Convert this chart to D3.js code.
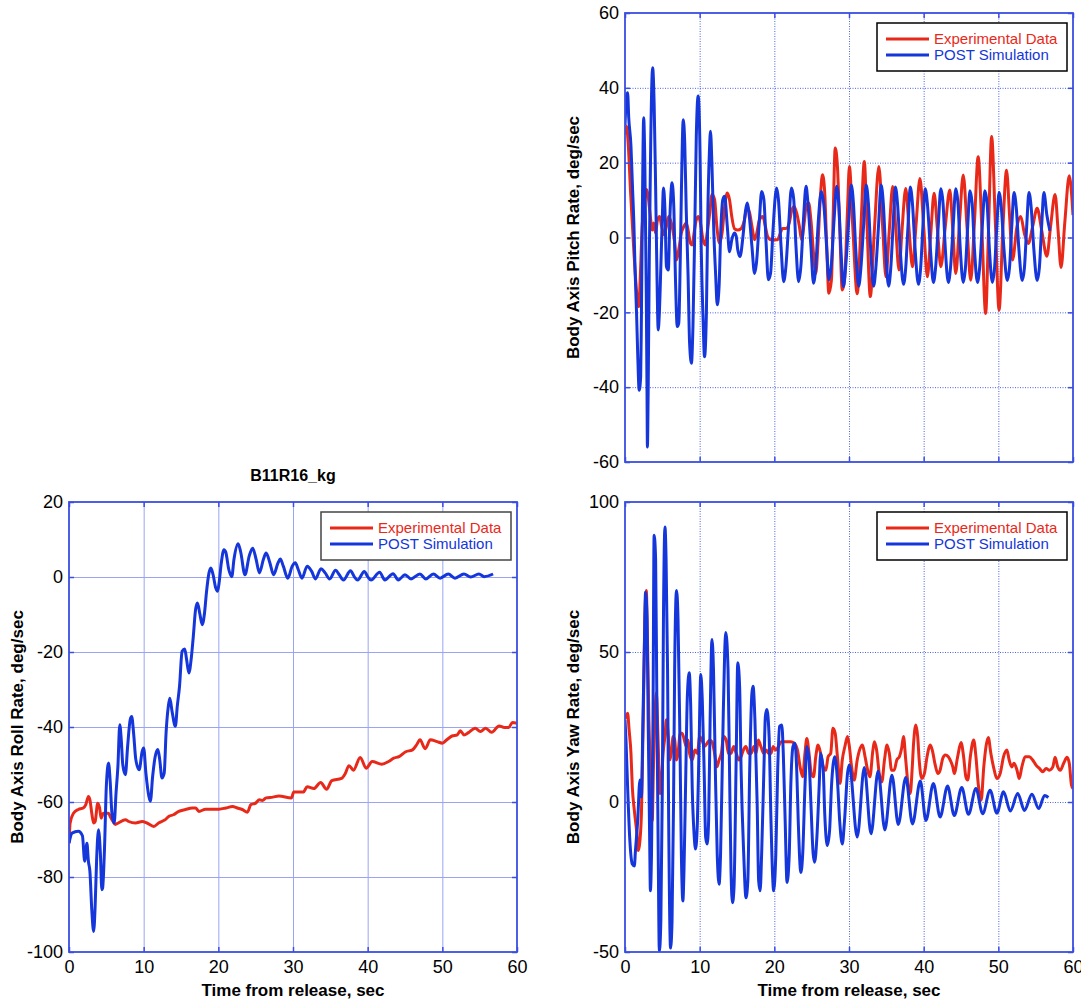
<!DOCTYPE html>
<html>
<head>
<meta charset="utf-8">
<script src="https://cdn.jsdelivr.net/npm/d3@7"></script>
<style>
  body { margin: 0; background: #fff; }
  svg { display: block; font-family: "Liberation Sans", Arial, sans-serif; }
</style>
</head>
<body>
<svg id="chart" width="1081" height="1000"></svg>
<script>
// tick values
const xTicks = [0, 10, 20, 30, 40, 50, 60];
const pitchTicks = [-60, -40, -20, 0, 20, 40, 60];
const rollTicks = [-100, -80, -60, -40, -20, 0, 20];
const yawTicks = [-50, 0, 50, 100];
const legendLabels = ['Experimental Data', 'POST Simulation'];

// [time, rate]
const pitchExp = [[0,27.5],[0.2,29.7],[0.45,24.4],[0.75,11.9],[1.0,3],[1.2,-4.2],[1.4,-10.4],[1.7,-17.6],[1.85,-18.5],[2.05,-10.4],[2.3,3],[2.55,8.3],[2.9,12.8],[3.1,11],[3.35,6.5],[3.65,2],[3.85,3.9],[4.1,1.2],[4.35,4.7],[4.65,5.6],[4.9,3],[5.25,0.7],[5.55,3],[5.85,5.6],[6.2,3.9],[6.6,-0.6],[6.9,-6],[7.2,-3.3],[7.55,1.2],[7.9,3],[8.2,3.9],[8.45,2],[8.75,-1.5],[9.0,-2],[9.25,1.2],[9.55,4.7],[9.85,5.6],[10.1,3.9],[10.45,-0.6],[10.75,-2],[11.0,1.2],[11.35,6.5],[11.65,11.5],[12.0,10.1],[12.3,3],[12.65,-1.5],[13.0,1.2],[13.35,8.3],[13.7,11.9],[14.0,10.1],[14.3,5.6],[14.65,2.4],[15.1,2],[15.55,2.4],[16.0,4.7],[16.35,8.3],[16.7,6.5],[17.0,3],[17.35,-0.6],[17.65,1.2],[18.0,4.7],[18.45,5.6],[18.8,3],[19.1,0.3],[19.55,-0.6],[20.0,-0.6],[20.45,-0.6],[20.8,1.2],[21.1,2.4],[21.55,2.4],[22.0,3.9],[22.3,7],[22.65,8.3],[23.0,6.5],[23.35,3],[23.65,-0.6],[24.0,3.9],[24.3,8.8],[24.6,9.2],[24.9,4.7],[25.25,-4.2],[25.55,-9.6],[25.85,-1.5],[26.2,11.9],[26.45,16.8],[26.75,11.9],[27.0,-1.5],[27.3,-14.9],[27.65,-11.3],[27.9,7.4],[28.15,23.9],[28.45,19],[28.75,3],[29.1,-14],[29.4,-11.3],[29.8,7.4],[30.05,19],[30.5,3],[31.1,-15],[31.6,3],[32.05,20.3],[32.4,4],[32.85,-15.8],[33.4,2],[34.0,19],[34.5,3],[34.95,-10.5],[35.4,2],[35.85,13.6],[36.25,3],[36.7,-8.7],[37.1,2],[37.6,13.1],[38.05,2],[38.5,-7.8],[39.0,4],[39.5,15.8],[40.0,3],[40.5,-10.5],[40.95,1],[41.4,11.8],[41.85,2],[42.3,-7.8],[42.9,3],[43.5,12.7],[43.9,2],[44.3,-9.6],[44.8,4],[45.3,16.7],[45.8,3],[46.3,-11.4],[46.8,4],[47.3,21.6],[47.8,2],[48.3,-20.3],[48.7,3],[49.1,27],[49.6,4],[50.1,-19.4],[50.6,2],[51.1,18],[51.5,6],[51.9,-6],[52.5,3],[53.0,5.6],[53.5,1],[54.0,-1.6],[54.6,3],[55.2,7.8],[55.8,2],[56.5,-5],[57.0,3],[57.6,11.5],[58.0,2],[58.4,-8],[58.9,4],[59.5,16.5],[60,6]];

const pitchSim = [[0,30],[0.2,37.8],[0.35,38.7],[0.5,32],[0.8,24.4],[1.0,13.7],[1.2,3],[1.35,-8.7],[1.55,-20.3],[1.7,-31],[1.9,-40.8],[2.1,-37.2],[2.2,-20.3],[2.35,11.9],[2.5,32],[2.65,20.8],[2.85,-14.9],[2.95,-41.7],[3.0,-56],[3.1,-41.7],[3.25,-6],[3.45,26.2],[3.7,45.4],[3.9,36],[4.1,13.7],[4.25,-6],[4.45,-24.7],[4.6,-20.3],[4.8,-7.8],[5.0,5.6],[5.15,13.2],[5.35,7.4],[5.55,-7.8],[5.8,-8.7],[6.0,4.7],[6.3,14.6],[6.55,7.4],[6.75,-10.4],[7.0,-23.8],[7.2,-22.9],[7.4,-6],[7.55,11.9],[7.8,31.5],[8.0,25.3],[8.2,7.4],[8.45,-10.4],[8.65,-28.2],[8.9,-33.6],[9.1,-23.8],[9.35,3],[9.55,27.1],[9.8,37.8],[10.05,22.6],[10.2,-1.5],[10.45,-21.2],[10.65,-31.9],[10.9,-20.3],[11.1,7.4],[11.3,22.6],[11.45,28.4],[11.65,19],[11.9,1.2],[12.15,-10.4],[12.35,-18],[12.6,-13.1],[12.8,0.3],[13.1,10.1],[13.35,11],[13.7,3],[14.0,-3.8],[14.3,-0.6],[14.65,1.2],[14.9,0.3],[15.1,-3.3],[15.4,-5.1],[15.8,0.3],[16.1,6.5],[16.35,9.2],[16.65,5.6],[17.0,-2.4],[17.35,-9.6],[17.6,-6.9],[18.0,4.7],[18.3,12.3],[18.6,10.1],[18.9,-1.5],[19.2,-11.3],[19.5,-9.5],[19.8,1.2],[20.3,13.2],[20.55,10.1],[20.9,-2.4],[21.25,-11.8],[21.55,-7.8],[21.9,2.9],[22.3,13.2],[22.6,10.1],[22.9,-2.4],[23.25,-11.8],[23.55,-7.8],[23.9,4.7],[24.25,13.7],[24.5,9.2],[24.9,-2.4],[25.25,-12.2],[25.55,-7.8],[25.9,4.7],[26.3,12.3],[26.65,8.3],[27.0,-2.4],[27.3,-11.3],[27.65,-6.9],[28.0,4.7],[28.35,13.7],[28.65,8.3],[28.9,-2.4],[29.25,-13.1],[29.55,-7.8],[29.95,4],
  [30.3,14],[30.6,9],[30.9,-3],[31.3,-13],[31.6,-8],[31.95,3],
  [32.3,14],[32.6,9],[32.9,-3],[33.3,-13],[33.6,-8],[33.95,3],
  [34.3,14],[34.6,9],[34.9,-3],[35.3,-13],[35.6,-8],[35.9,3],
  [36.2,13.5],[36.5,9],[36.85,-3],[37.3,-12.5],[37.6,-8],[37.9,3],
  [38.2,13.5],[38.5,9],[38.85,-3],[39.3,-12.5],[39.6,-8],[39.9,3],
  [40.2,13],[40.5,9],[40.9,-3],[41.3,-12],[41.6,-8],[41.95,3],
  [42.3,13],[42.6,9],[42.9,-3],[43.3,-12],[43.6,-8],[43.95,3],
  [44.3,13],[44.6,9],[44.9,-3],[45.3,-12],[45.6,-8],[45.9,3],
  [46.2,12.5],[46.5,9],[46.8,-3],[47.2,-12],[47.5,-8],[47.85,3],
  [48.2,12.5],[48.5,9],[48.8,-3],[49.2,-12],[49.5,-8],[49.8,3],
  [50.1,12],[50.4,8],[50.75,-3],[51.2,-11.5],[51.5,-8],[51.8,3],
  [52.1,12],[52.4,8],[52.75,-3],[53.2,-11.5],[53.5,-8],[53.8,3],
  [54.1,12],[54.4,8],[54.75,-3],[55.2,-11.5],[55.5,-8],[55.8,3],
  [56.1,12],[56.5,6],[56.9,1.8]];

const rollExp = [[0,-71],[0.15,-65.6],[0.6,-63],[1.25,-62],[1.9,-61.6],[2.25,-60.7],[2.6,-58.5],[2.8,-59.4],[3.05,-63],[3.3,-65.6],[3.5,-65.2],[3.85,-60.3],[4.1,-61.6],[4.3,-64.3],[4.6,-63],[5.0,-63],[5.3,-63],[5.5,-63.8],[5.9,-65.2],[6.2,-66],[6.6,-65.6],[7.55,-64.7],[8.0,-65.2],[8.9,-65.6],[9.8,-65.2],[10.45,-65.6],[11.35,-66.5],[12.0,-65.6],[12.9,-64.7],[13.4,-63.8],[14.0,-63.4],[14.7,-62.5],[15.6,-62],[16.5,-61.6],[16.95,-61.6],[17.4,-62.5],[18.3,-61.9],[19.2,-61.9],[20.1,-61.9],[21.0,-61.6],[21.9,-61.2],[22.55,-61.6],[23.2,-62],[23.9,-62.7],[24.35,-60.7],[25.0,-60.3],[25.5,-59.4],[25.9,-59.6],[26.4,-58.9],[27.3,-58.7],[28.1,-58.4],[29.8,-58.9],[30.1,-57.3],[31.4,-57.3],[31.9,-55.9],[32.8,-56.4],[33.7,-54.8],[34.5,-56.6],[35.2,-54.3],[36.5,-53.7],[37.0,-52.4],[37.5,-50.3],[38.1,-51.5],[39.0,-48.1],[39.8,-51],[40.6,-49.2],[41.9,-49.9],[42.8,-49.2],[43.5,-48.3],[44.2,-47.9],[45.1,-46.6],[46.0,-46.1],[46.6,-44.6],[47.0,-43.4],[47.7,-45.8],[48.4,-43.4],[49.3,-43.9],[50.0,-44.3],[50.6,-43.4],[51.3,-42.4],[52.0,-42.1],[52.4,-41],[52.9,-42.1],[53.5,-41.5],[54.4,-40.3],[55.1,-41.2],[55.8,-40.3],[56.6,-41.4],[57.6,-39.7],[58.3,-40.1],[58.9,-40.1],[59.4,-38.8],[60,-39]];

const rollSim = [[0,-71],[0.4,-68.3],[1.25,-67.8],[1.8,-69],[2.1,-75.8],[2.4,-71],[2.6,-75.8],[2.8,-78.5],[3.05,-88.7],[3.3,-94.5],[3.5,-87.8],[3.7,-75.4],[3.95,-67.4],[4.2,-73.6],[4.4,-83.4],[4.5,-83],[4.75,-72.7],[5.0,-55.8],[5.3,-49.6],[5.5,-54],[5.75,-63],[6.05,-65.6],[6.3,-57.6],[6.55,-50.5],[6.8,-39.4],[7.0,-43.4],[7.2,-50],[7.55,-52.7],[7.85,-45.2],[8.2,-38],[8.4,-37.2],[8.65,-41.6],[8.95,-48.7],[9.4,-51.4],[9.8,-46.5],[10.0,-45.6],[10.3,-52.3],[10.7,-58.5],[10.9,-59.8],[11.2,-53.2],[11.55,-47.8],[11.9,-46],[12.15,-48.7],[12.45,-53.6],[12.75,-52.3],[13.0,-41.6],[13.3,-34.5],[13.5,-32.3],[13.8,-35.8],[14.25,-39.8],[14.5,-34.5],[14.8,-29.2],[15.15,-19.8],[15.5,-19.2],[15.75,-22],[16.05,-25.6],[16.4,-21.2],[16.65,-15.8],[16.95,-8.7],[17.2,-6.9],[17.5,-9.6],[17.85,-12.7],[18.15,-9.6],[18.4,-4.3],[18.75,1.1],[19.0,2.4],[19.3,0.6],[19.65,-2.9],[19.9,-3.8],[20.1,-1.6],[20.4,3.8],[20.75,7.3],[21.0,6.6],[21.4,2],[21.8,0.1],[22.1,4.8],[22.65,8.9],[23.0,6.6],[23.56,0.6],[24.15,5.7],[24.6,7.7],[25.05,4.8],[25.5,1.1],[26.05,4.8],[26.4,6.4],[26.9,3.8],[27.4,0.6],[28.0,3.8],[28.3,4.8],[28.7,2.9],[29.3,-0.3],[29.9,2.9],[30.3,3.8],[30.7,2],[31.2,-0.3],[31.9,2.9],[32.5,1.5],[33.0,-0.5],[33.75,2.2],[34.3,1.1],[34.9,-0.5],[35.7,1.8],[36.2,0.6],[36.75,-0.8],[37.7,1.7],[38.2,0.1],[38.65,-0.8],[39.55,1.5],[40.0,0.1],[40.45,-0.8],[41.6,1.3],[42.3,-0.8],[43.4,0.9],[44.1,-0.8],[45.0,0.6],[45.8,-0.5],[47.0,0.8],[47.8,-0.5],[48.8,0.8],[49.7,-0.3],[50.8,0.8],[51.7,-0.3],[52.9,0.8],[53.8,0],[54.9,0.8],[55.6,0.1],[56.8,0.8]];

const yawExp = [[0,27.6],[0.35,29.6],[0.55,24],[0.8,16.2],[0.98,5],[1.25,-2.8],[1.55,-9.5],[1.8,-16.2],[2.0,-12.9],[2.2,-3.9],[2.45,27.4],[2.65,61],[2.85,70.5],[3.0,55.4],[3.2,27.4],[3.45,5],[3.65,-6.2],[3.8,10.6],[4.0,27.4],[4.2,36.4],[4.35,27.4],[4.55,10.6],[4.7,2.8],[4.9,7.3],[5.1,16.2],[5.35,21.8],[5.55,27.4],[5.8,21.8],[6.0,14],[6.2,16.2],[6.45,21.8],[6.65,20.7],[6.9,14],[7.1,16.2],[7.4,22.9],[7.65,22.9],[8.0,20.1],[8.2,18.5],[8.45,20.7],[8.65,16.2],[9.0,14],[9.35,17.3],[9.7,16.2],[10.0,21.8],[10.3,20.7],[10.65,18.5],[11.0,19.6],[11.35,20.7],[11.65,20.1],[12.0,16.2],[12.3,11.7],[12.6,14],[12.9,16.2],[13.2,21.8],[13.55,20.7],[13.85,16.2],[14.2,16.2],[14.55,18.5],[14.9,16.2],[15.25,14],[15.55,15.1],[15.85,17.3],[16.2,18.5],[16.55,16.2],[16.9,16.2],[17.25,18.5],[17.55,16.2],[17.85,20.7],[18.2,18.5],[18.6,16.2],[18.9,17.3],[19.25,16.2],[19.55,16.2],[19.85,18.5],[20.2,17.3],[20.55,18.5],[20.9,20.1],[21.55,20.1],[22.2,20.1],[22.65,19.6],[23.1,17.3],[23.45,11.7],[23.8,8.4],[24.1,16.2],[24.35,21.2],[24.65,16.2],[24.95,9.5],[25.25,8.4],[25.55,15.1],[25.85,19],[26.2,16.2],[26.55,11.7],[26.9,10.6],[27.2,15.1],[27.55,16.2],[27.85,24.6],[28.15,22.9],[28.45,15.1],[28.8,6.2],[29.1,14],[29.45,18.5],[29.8,21.8],[30.05,18.5],[30.35,11.7],[30.7,7.3],[31.1,14],[31.5,17.9],[31.8,19],[32.15,15.1],[32.5,10.6],[32.8,8.4],[33.2,17.3],[33.4,20.1],[33.7,17.3],[34.05,9.5],[34.4,6.7],[34.75,14],[35.1,19],[35.4,16.2],[35.7,10.6],[36.05,10.6],[36.4,14],[36.75,15.1],[37.05,17.9],[37.3,21.8],[37.6,14],[37.95,5],[38.2,2.8],[38.45,10.6],[38.65,19.6],[38.95,25.7],[39.2,21.8],[39.4,14],[39.75,7.8],[40.1,9.5],[40.45,15.1],[40.9,19],[41.2,16.8],[41.5,12.9],[41.9,9.5],[42.2,10.6],[42.55,14.5],[42.9,15.7],[43.3,15.1],[43.55,14],[43.9,11.7],[44.1,9.5],[44.55,15.1],[45.0,19.8],[45.35,15.1],[45.65,8.4],[45.9,7.3],[46.25,15.1],[46.7,20.7],[47.0,15.1],[47.3,6.2],[47.7,0.6],[48.05,11.7],[48.35,18.5],[48.65,21.5],[49.0,16.2],[49.45,10.6],[49.8,7.8],[50.25,9.5],[50.7,15.1],[51.15,17.3],[51.45,14],[51.8,11.7],[52.1,12.9],[52.5,10.6],[52.8,7.8],[53.15,11.7],[53.6,15.1],[54.15,15.1],[54.6,14],[55.05,12.3],[55.5,11.2],[55.95,10.1],[56.4,11.2],[56.85,10.6],[57.3,11.7],[57.6,14.9],[57.95,11.7],[58.3,10.6],[58.75,12.9],[59.2,14.9],[59.5,12.9],[59.8,5.6],[60,4.5]];

const yawSim = [[0,27.4],[0.13,20.7],[0.35,5],[0.65,-12.9],[0.98,-20.7],[1.25,-21.3],[1.4,-16.2],[1.7,-6.2],[2.0,7.3],[2.2,1.7],[2.4,27.4],[2.6,52],[2.75,69.9],[2.95,61],[3.1,27.4],[3.3,-11.7],[3.4,-29.6],[3.55,-17.3],[3.75,27.4],[3.9,88.9],[4.1,81.1],[4.25,38.6],[4.45,-17.3],[4.6,-49.8],[4.8,-39.7],[5.0,5],[5.15,61],[5.35,91.7],[5.5,81.1],[5.7,44.2],[5.85,-6.2],[6.1,-48.7],[6.3,-39.7],[6.5,-0.6],[6.65,44.2],[6.9,70.5],[7.1,61],[7.35,21.8],[7.55,-17.3],[7.75,-33],[7.9,-22.9],[8.15,10.6],[8.35,35.2],[8.6,43.1],[8.8,31.9],[9.0,5],[9.25,-10.6],[9.45,-15.7],[9.7,-6.2],[9.9,16.2],[10.15,42.5],[10.35,34.1],[10.6,10.6],[10.8,-11.7],[11.0,-14],[11.2,-6.2],[11.4,27.4],[11.65,54.2],[11.85,44.2],[12.1,10.6],[12.35,-17.3],[12.6,-27.4],[12.8,-17.3],[13.1,21.8],[13.35,49.8],[13.5,56.5],[13.8,44.2],[14.0,10.6],[14.2,-22.9],[14.4,-33.6],[14.6,-28.5],[14.9,16.2],[15.1,46.4],[15.35,38.6],[15.55,10.6],[15.9,-17.3],[16.2,-31.9],[16.45,-26.3],[16.7,10.6],[17.0,36.4],[17.15,38.6],[17.4,27.4],[17.7,-0.6],[17.9,-26.3],[18.1,-29.6],[18.3,-17.3],[18.6,10.6],[18.8,28.5],[19.0,30.8],[19.3,21.8],[19.55,-6.2],[19.8,-26.3],[19.9,-29.6],[20.2,-17.3],[20.45,10.6],[20.7,25.2],[21.0,25.7],[21.2,16.2],[21.45,-6.2],[21.7,-26.8],[22.0,-17.3],[22.2,5],[22.5,18.5],[22.75,19.6],[23.0,10.6],[23.2,-6.2],[23.55,-23.5],[23.8,-17.3],[24.1,5],[24.35,18.5],[24.65,14],[24.9,-0.6],[25.2,-17.3],[25.4,-20.1],[25.7,-11.7],[26.0,5],[26.2,16.2],[26.55,10.6],[26.75,-3.9],[27.1,-14.5],[27.4,-9.5],[27.65,5],[28.1,15.1],[28.45,7.3],[28.75,-6.2],[29.1,-14],[29.4,-6.2],[29.8,9.5],[30.05,12.3],[31.1,-11.7],[32.05,11.5],[32.95,-10.6],[33.9,10.3],[34.8,-9.3],[35.75,8.9],[36.6,-7.5],[37.6,8.2],[38.5,-7.3],[39.55,7],[40.3,-6.2],[41.3,6.2],[42.2,-5],[43.2,5.3],[44.1,-4.5],[45.1,4.8],[46.0,-4.1],[47.0,4.5],[47.9,-3.9],[48.9,3.9],[49.8,-3.7],[50.7,3.4],[51.6,-3],[52.6,2.8],[53.5,-2.8],[54.5,2.6],[55.4,-2.2],[56.2,2.2],[56.7,1.5]];

const RED = '#e8291a', BLUE = '#1436da', AXIS = '#3a4ee2';
const svg = d3.select('#chart');

const panels = [
  { id: 'pitch', left: 625, right: 1073, top: 13, bottom: 462, yTicks: pitchTicks,
    yLabel: 'Body Axis Pitch Rate, deg/sec', exp: pitchExp, sim: pitchSim,
    dotted: true, xLabels: false },
  { id: 'roll', left: 69, right: 517, top: 502, bottom: 952, yTicks: rollTicks,
    yLabel: 'Body Axis Roll Rate, deg/sec', exp: rollExp, sim: rollSim,
    dotted: false, xLabels: true, title: 'B11R16_kg' },
  { id: 'yaw', left: 625, right: 1073, top: 502, bottom: 952, yTicks: yawTicks,
    yLabel: 'Body Axis Yaw Rate, deg/sec', exp: yawExp, sim: yawSim,
    dotted: true, xLabels: true }
];

function drawPanel(p) {
  const w = p.right - p.left, h = p.bottom - p.top;
  const x = d3.scaleLinear().domain([0, 60]).range([p.left, p.right]);
  const y = d3.scaleLinear().domain(d3.extent(p.yTicks)).range([p.bottom, p.top]);
  const g = svg.append('g');

  // grid
  const grid = g.append('g');
  grid.append('g').attr('transform', `translate(${p.left},0)`)
    .call(d3.axisLeft(y).tickValues(p.yTicks.slice(1, -1)).tickSize(-w).tickFormat(''));
  grid.append('g').attr('transform', `translate(0,${p.bottom})`)
    .call(d3.axisBottom(x).tickValues(xTicks.slice(1, -1)).tickSize(-h).tickFormat(''));
  grid.selectAll('.domain').remove();
  grid.selectAll('line')
    .attr('stroke', p.dotted ? '#4c62e6' : '#9aa4f3')
    .attr('stroke-width', 1)
    .attr('stroke-dasharray', p.dotted ? '1,1.5' : null);

  // data lines
  g.append('clipPath').attr('id', 'clip-' + p.id)
    .append('rect').attr('x', p.left).attr('y', p.top).attr('width', w).attr('height', h);
  const line = d3.line().x(d => x(d[0])).y(d => y(d[1])).curve(d3.curveMonotoneX);
  const lines = g.append('g').attr('clip-path', `url(#clip-${p.id})`);
  [[p.exp, RED], [p.sim, BLUE]].forEach(([data, col]) => {
    lines.append('path').datum(data)
      .attr('d', line)
      .attr('fill', 'none')
      .attr('stroke', col)
      .attr('stroke-width', 3)
      .attr('stroke-linejoin', 'round');
  });

  // box + inward ticks on all sides
  const ticks = g.append('g');
  ticks.append('g').attr('transform', `translate(${p.left},0)`)
    .call(d3.axisLeft(y).tickValues(p.yTicks).tickSize(-5).tickFormat(''));
  ticks.append('g').attr('transform', `translate(${p.right},0)`)
    .call(d3.axisRight(y).tickValues(p.yTicks).tickSize(-5).tickFormat(''));
  ticks.append('g').attr('transform', `translate(0,${p.bottom})`)
    .call(d3.axisBottom(x).tickValues(xTicks).tickSize(-5).tickFormat(''));
  ticks.append('g').attr('transform', `translate(0,${p.top})`)
    .call(d3.axisTop(x).tickValues(xTicks).tickSize(-5).tickFormat(''));
  ticks.selectAll('.domain').remove();
  ticks.selectAll('line').attr('stroke', AXIS).attr('stroke-width', 1.5);
  g.append('rect')
    .attr('x', p.left).attr('y', p.top).attr('width', w).attr('height', h)
    .attr('fill', 'none').attr('stroke', AXIS).attr('stroke-width', 1.8);

  // tick labels
  const yl = g.append('g').attr('transform', `translate(${p.left},0)`)
    .call(d3.axisLeft(y).tickValues(p.yTicks).tickSize(0).tickPadding(6).tickFormat(d => String(d)));
  yl.select('.domain').remove();
  yl.selectAll('text').attr('font-size', 18).attr('fill', '#000')
    .attr('font-family', '"Liberation Sans", Arial, sans-serif');

  if (p.xLabels) {
    const xl = g.append('g').attr('transform', `translate(0,${p.bottom})`)
      .call(d3.axisBottom(x).tickValues(xTicks).tickSize(0).tickPadding(8).tickFormat(d => String(d)));
    xl.select('.domain').remove();
    xl.selectAll('text').attr('font-size', 18).attr('fill', '#000')
      .attr('font-family', '"Liberation Sans", Arial, sans-serif');
    g.append('text')
      .attr('x', (p.left + p.right) / 2).attr('y', p.bottom + 44)
      .attr('text-anchor', 'middle').attr('font-size', 17).attr('font-weight', 'bold')
      .text('Time from release, sec');
  }

  g.append('text')
    .attr('transform', `translate(${p.left - 52},${(p.top + p.bottom) / 2}) rotate(-90)`)
    .attr('text-anchor', 'middle').attr('dominant-baseline', 'central')
    .attr('font-size', 17).attr('font-weight', 'bold')
    .text(p.yLabel);

  if (p.title) {
    g.append('text')
      .attr('x', (p.left + p.right) / 2).attr('y', p.top - 21)
      .attr('text-anchor', 'middle').attr('font-size', 16).attr('font-weight', 'bold')
      .text(p.title);
  }

  // legend
  const lx = p.right - 196, ly = p.top + 10;
  const lg = g.append('g');
  lg.append('rect').attr('x', lx).attr('y', ly).attr('width', 190).attr('height', 48)
    .attr('fill', '#fff').attr('stroke', p.id === 'roll' ? '#444' : '#000').attr('stroke-width', 1.5);
  [RED, BLUE].forEach((col, i) => {
    const yy = ly + 16 + i * 16;
    lg.append('line').attr('x1', lx + 9).attr('x2', lx + 52).attr('y1', yy).attr('y2', yy)
      .attr('stroke', col).attr('stroke-width', 3);
    lg.append('text').attr('x', lx + 57).attr('y', yy + 5)
      .attr('font-size', 15).attr('fill', col).text(legendLabels[i]);
  });
}

panels.forEach(drawPanel);
</script>
</body>
</html>
